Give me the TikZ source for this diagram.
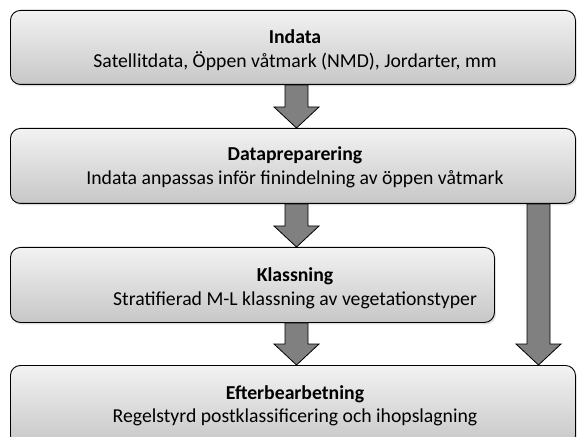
\documentclass[tikz,border=0pt]{standalone}
\usepackage{fontspec}
\setmainfont{Carlito}
\usetikzlibrary{calc,shadows}

% block arrow between two points (vertical, pointing down)
\newcommand{\fatarrow}[2]{%
  \draw[fatarrow] ($(#1)+(-11.5,0)$) -- ($(#2)+(-11.5,-21)$) -- ($(#2)+(-22.5,-21)$)
    -- (#2) -- ($(#2)+(22.5,-21)$) -- ($(#2)+(11.5,-21)$) -- ($(#1)+(11.5,0)$) -- cycle;}

\begin{document}
\begin{tikzpicture}[x=1bp,y=-1bp,
  stepbox/.style={draw=black,line width=0.9bp,rounded corners=10bp,top color=black!5,bottom color=black!22,
    drop shadow={opacity=0.25,shadow xshift=1.5bp,shadow yshift=-2bp},
    anchor=north west,inner sep=0pt,minimum height=74bp},
  boxtext/.style={align=center,font=\fontsize{19.8}{24}\selectfont,inner sep=0pt},
  fatarrow/.style={draw=black,line width=0.8bp,fill=black!50,line join=miter}]
\clip (0,0) rectangle (577,437);
\useasboundingbox (0,0) rectangle (577,437);
\coordinate (textcol) at (295,0);
\coordinate (midcol) at (296.5,0);
\coordinate (rightcol) at (538.5,0);
% boxes
\node[stepbox,minimum width=565bp] (indata) at (10,10) {};
\node[stepbox,minimum width=565bp,minimum height=75bp] (prep) at (10,128) {};
\node[stepbox,minimum width=484bp,minimum height=75bp] (klass) at (10,247) {};
\node[stepbox,minimum width=565bp,minimum height=80bp] (efter) at (10,365) {};
% texts
\node[boxtext,yshift=-2.5bp] (indatatext) at (indata.center -| textcol) {\textbf{Indata}\\Satellitdata, Öppen våtmark (NMD), Jordarter, mm};
\node[boxtext,yshift=-1.5bp] (preptext) at (prep.center -| textcol) {\textbf{Datapreparering}\\Indata anpassas inför finindelning av öppen våtmark};
\node[boxtext,yshift=-3bp] (klasstext) at (klass.center -| textcol) {\textbf{Klassning}\\Stratifierad M-L klassning av vegetationstyper};
\node[boxtext,anchor=north] (eftertext) at ($(efter.north -| textcol)+(0,20)$) {\textbf{Efterbearbetning}\\Regelstyrd postklassificering och ihopslagning};
% arrows
\fatarrow{midcol |- indata.south}{midcol |- prep.north}
\fatarrow{midcol |- prep.south}{midcol |- klass.north}
\fatarrow{midcol |- klass.south}{midcol |- efter.north}
\fatarrow{rightcol |- prep.south}{rightcol |- efter.north}
\end{tikzpicture}
\end{document}
